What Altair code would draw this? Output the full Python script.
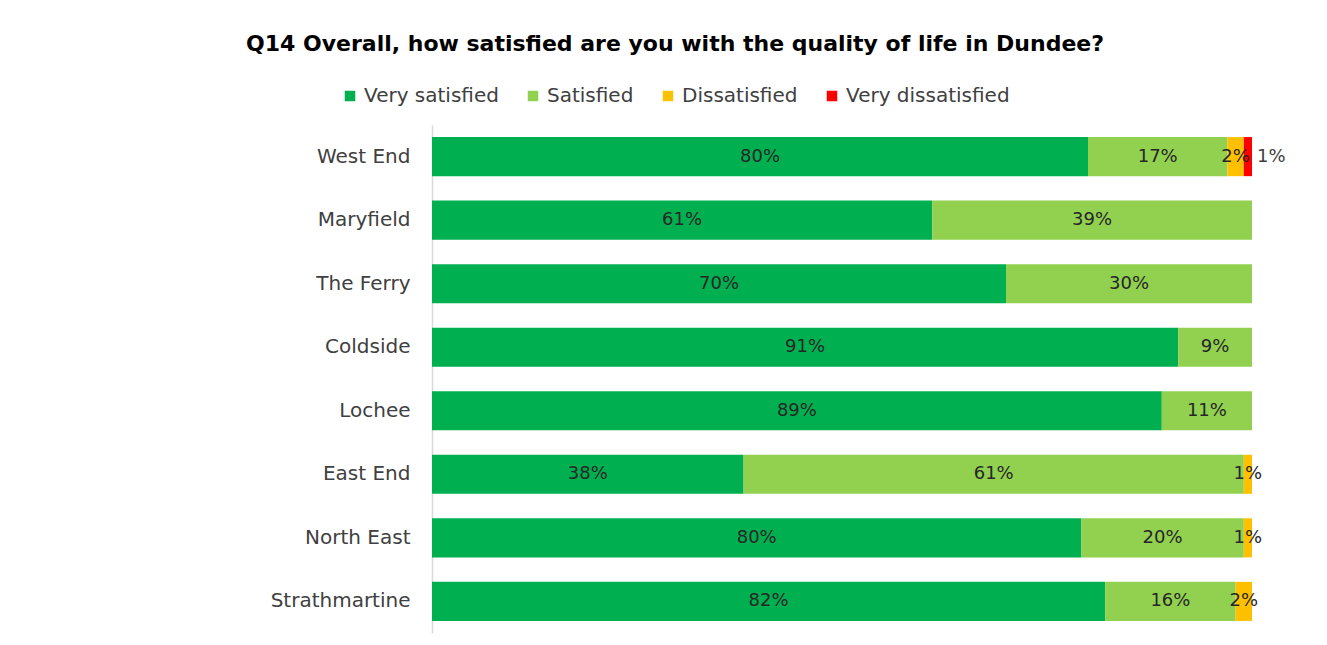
import altair as alt
import pandas as pd

categories = ["West End", "Maryfield", "The Ferry", "Coldside", "Lochee",
              "East End", "North East", "Strathmartine"]
series = ["Very satisfied", "Satisfied", "Dissatisfied", "Very dissatisfied"]
colors = ["#00B050", "#92D050", "#FFC000", "#FF0000"]

very_satisfied = [80, 61, 70, 91, 89, 38, 79.2, 82.1]
satisfied = [17, 39, 30, 9, 11, 61, 19.8, 15.9]
dissatisfied = [2, 0, 0, 0, 0, 1, 1, 2]
very_dissatisfied = [1, 0, 0, 0, 0, 0, 0, 0]

very_satisfied_labels = ["80%", "61%", "70%", "91%", "89%", "38%", "80%", "82%"]
satisfied_labels = ["17%", "39%", "30%", "9%", "11%", "61%", "20%", "16%"]
dissatisfied_labels = ["2%", "", "", "", "", "1%", "1%", "2%"]
very_dissatisfied_labels = ["1%", "", "", "", "", "", "", ""]

FONT = "DejaVu Sans"

rows = []
all_vals = [very_satisfied, satisfied, dissatisfied, very_dissatisfied]
all_labs = [very_satisfied_labels, satisfied_labels, dissatisfied_labels, very_dissatisfied_labels]
for i, c in enumerate(categories):
    start = 0.0
    for k, s in enumerate(series):
        v = all_vals[k][i]
        if v > 0:
            rows.append(dict(category=c, series=s, order=k,
                             start=start / 100, end=(start + v) / 100,
                             label=all_labs[k][i]))
        start += v
df = pd.DataFrame(rows)

yenc = alt.Y("category:N", sort=categories, title=None,
             scale=alt.Scale(paddingInner=0.385, paddingOuter=0.19),
             axis=alt.Axis(domain=True, domainColor="#D9D9D9", domainWidth=1.5,
                           ticks=False, labelPadding=22, labelFontSize=20,
                           labelFont=FONT, labelColor="#404040", grid=False))
xscale = alt.Scale(domain=[0, 1], nice=False, zero=True)

base = alt.Chart(df)

bars = base.mark_bar().encode(
    y=yenc,
    x=alt.X("start:Q", scale=xscale, axis=None),
    x2="end:Q",
    color=alt.Color("series:N", scale=alt.Scale(domain=series, range=colors),
                    legend=alt.Legend(title=None, orient="none", direction="horizontal",
                                      legendX=-92, legendY=-39,
                                      symbolType="square", symbolSize=110,
                                      symbolStrokeWidth=0,
                                      labelFont=FONT, labelFontSize=20,
                                      labelColor="#404040", columnPadding=24,
                                      labelOffset=4, labelLimit=400)),
    order="order:Q",
)

inside = base.transform_filter(
    alt.datum.series != "Very dissatisfied"
).transform_calculate(
    mid="(datum.start + datum.end) / 2"
).mark_text(font=FONT, fontSize=18, color="#262626", baseline="middle").encode(
    y=alt.Y("category:N", sort=categories),
    x=alt.X("mid:Q", scale=xscale),
    text="label:N",
)

outside = base.transform_filter(
    alt.datum.series == "Very dissatisfied"
).mark_text(font=FONT, fontSize=18, color="#404040", baseline="middle",
            align="left", dx=5).encode(
    y=alt.Y("category:N", sort=categories),
    x=alt.X("end:Q", scale=xscale),
    text="label:N",
)

chart = alt.layer(bars, inside, outside).properties(
    width=820,
    height=508,
    background="white",
    autosize=alt.AutoSizeParams(type="none"),
    padding={"left": 424, "top": 117, "right": 60, "bottom": 10},
    title=alt.TitleParams(
        "Q14 Overall, how satisfied  are you with the quality of life in Dundee?",
        font=FONT, fontSize=22, fontWeight="bold", color="#000000",
        anchor="middle", dx=-167, offset=30,
    ),
).configure_view(strokeWidth=0, stroke="transparent")

chart.save("out.html", embed_options={"renderer": "svg", "actions": False})
